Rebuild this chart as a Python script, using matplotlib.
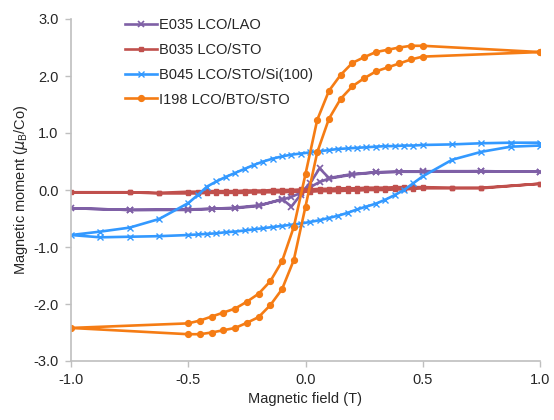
import numpy as np
from matplotlib import pyplot as plt

plt.rcParams['font.family'] = ['Liberation Sans', 'DejaVu Sans']
plt.rcParams['mathtext.fontset'] = 'custom'
plt.rcParams['mathtext.rm'] = 'Liberation Sans'

# ---------------- data ----------------
# E035 LCO/LAO : down sweep then up sweep
e035_x = [1.0, 0.75, 0.5, 0.4, 0.3, 0.2, 0.1, 0.06, 0.02, -0.02, -0.06, -0.1, -0.2, -0.3, -0.4, -0.5, -0.75, -1.0,
          -0.75, -0.5, -0.4, -0.3, -0.2, -0.1, -0.06, -0.02, 0.02, 0.06, 0.1, 0.2, 0.3, 0.4, 0.5, 0.75, 1.0]
e035_y = [0.32, 0.33, 0.33, 0.32, 0.31, 0.28, 0.21, 0.38, 0.12, -0.05, -0.12, -0.17, -0.27, -0.31, -0.33, -0.34, -0.35, -0.32,
          -0.35, -0.35, -0.33, -0.32, -0.28, -0.16, -0.29, -0.08, 0.05, 0.14, 0.20, 0.27, 0.31, 0.32, 0.32, 0.33, 0.32]

# B035 LCO/STO
b035_x = [1.0, 0.75, 0.625, 0.5, 0.46, 0.42, 0.38, 0.34, 0.30, 0.26, 0.22, 0.18, 0.14, 0.10, 0.06, 0.02,
          -0.02, -0.06, -0.10, -0.14, -0.18, -0.22, -0.26, -0.30, -0.34, -0.38, -0.42, -0.46, -0.5, -0.625, -0.75, -1.0,
          -0.75, -0.625, -0.5, -0.46, -0.42, -0.38, -0.34, -0.30, -0.26, -0.22, -0.18, -0.14, -0.10, -0.06, -0.02,
          0.02, 0.06, 0.10, 0.14, 0.18, 0.22, 0.26, 0.30, 0.34, 0.38, 0.42, 0.46, 0.5, 0.625, 0.75, 1.0]
b035_y = [0.11, 0.04, 0.04, 0.05, 0.05, 0.05, 0.05, 0.04, 0.04, 0.04, 0.03, 0.03, 0.03, 0.02, 0.02, 0.01,
          0.01, 0.0, 0.0, 0.0, -0.01, -0.01, -0.01, -0.02, -0.02, -0.02, -0.02, -0.03, -0.03, -0.05, -0.04, -0.04,
          -0.04, -0.06, -0.06, -0.06, -0.05, -0.05, -0.05, -0.05, -0.05, -0.04, -0.04, -0.04, -0.04, -0.03, -0.03,
          -0.03, -0.02, -0.02, -0.02, -0.01, -0.01, 0.0, 0.0, 0.0, 0.01, 0.01, 0.02, 0.03, 0.03, 0.03, 0.11]

# B045 LCO/STO/Si(100)
b045_x = [1.0, 0.875, 0.75, 0.625, 0.5, 0.46, 0.42, 0.38, 0.34, 0.30, 0.26, 0.22, 0.18, 0.14, 0.10, 0.06, 0.02,
          -0.02, -0.06, -0.10, -0.14, -0.18, -0.22, -0.26, -0.30, -0.34, -0.38, -0.42, -0.46, -0.5, -0.625, -0.75, -0.875, -1.0,
          -0.875, -0.75, -0.625, -0.5, -0.46, -0.42, -0.38, -0.34, -0.30, -0.26, -0.22, -0.18, -0.14, -0.10, -0.06, -0.02,
          0.02, 0.06, 0.10, 0.14, 0.18, 0.22, 0.26, 0.30, 0.34, 0.38, 0.42, 0.46, 0.5, 0.625, 0.75, 0.875, 1.0]
b045_y = [0.83, 0.83, 0.82, 0.80, 0.79, 0.78, 0.78, 0.77, 0.77, 0.76, 0.75, 0.74, 0.73, 0.72, 0.70, 0.68, 0.66,
          0.64, 0.62, 0.59, 0.55, 0.50, 0.44, 0.37, 0.30, 0.23, 0.15, 0.06, -0.09, -0.23, -0.51, -0.66, -0.73, -0.79,
          -0.83, -0.82, -0.81, -0.79, -0.78, -0.77, -0.76, -0.74, -0.73, -0.71, -0.69, -0.67, -0.65, -0.63, -0.61, -0.59,
          -0.56, -0.53, -0.49, -0.45, -0.40, -0.34, -0.29, -0.24, -0.17, -0.09, 0.0, 0.12, 0.24, 0.53, 0.67, 0.76, 0.78]

# I198 LCO/BTO/STO
i198_x = [1.0, 0.5, 0.45, 0.4, 0.35, 0.3, 0.25, 0.2, 0.15, 0.1, 0.05, 0.0,
          -0.05, -0.1, -0.15, -0.2, -0.25, -0.3, -0.35, -0.4, -0.45, -0.5, -1.0,
          -0.5, -0.45, -0.4, -0.35, -0.3, -0.25, -0.2, -0.15, -0.1, -0.05, 0.0,
          0.05, 0.1, 0.15, 0.2, 0.25, 0.3, 0.35, 0.4, 0.45, 0.5, 1.0]
i198_y = [2.42, 2.53, 2.53, 2.50, 2.46, 2.42, 2.33, 2.23, 2.02, 1.74, 1.23, 0.28,
          -0.65, -1.25, -1.60, -1.82, -1.96, -2.08, -2.15, -2.22, -2.29, -2.34, -2.42,
          -2.53, -2.53, -2.50, -2.46, -2.42, -2.33, -2.23, -2.02, -1.74, -1.23, -0.29,
          0.66, 1.25, 1.60, 1.82, 1.96, 2.08, 2.15, 2.22, 2.29, 2.34, 2.42]

labels = ['E035 LCO/LAO', 'B035 LCO/STO', 'B045 LCO/STO/Si(100)', 'I198 LCO/BTO/STO']
colors = ['#7F60A6', '#C0504D', '#3399FF', '#F57C14']

# ---------------- plot ----------------
fig = plt.figure(figsize=(5.54, 4.2), dpi=100)
ax = fig.add_axes([71/554, 1-361/420, 469/554, 342/420])

ax.plot(e035_x, e035_y, color=colors[0], lw=1.9, marker='x', ms=5, mew=1.2, label=labels[0])
ax.plot(b035_x, b035_y, color=colors[1], lw=1.9, marker='s', ms=3.5, label=labels[1])
ax.plot(b045_x, b045_y, color=colors[2], lw=1.9, marker='x', ms=5, mew=1.0, label=labels[2])
ax.plot(i198_x, i198_y, color=colors[3], lw=1.9, marker='o', ms=4.2, label=labels[3])

ax.set_xlim(-1.0, 1.0)
ax.set_ylim(-3.0, 3.0)
ax.set_xticks([-1.0, -0.5, 0.0, 0.5, 1.0])
ax.set_yticks([-3.0, -2.0, -1.0, 0.0, 1.0, 2.0, 3.0])
ax.xaxis.set_major_formatter(plt.FormatStrFormatter('%.1f'))
ax.yaxis.set_major_formatter(plt.FormatStrFormatter('%.1f'))

for s in ['top', 'right']:
    ax.spines[s].set_visible(False)
for s in ['left', 'bottom']:
    ax.spines[s].set_color('#BFBFBF')
    ax.spines[s].set_linewidth(1.2)
ax.tick_params(direction='out', length=4, width=1, color='#BFBFBF', labelsize=10.5,
               labelcolor='#262626', pad=5)

ax.set_xlabel('Magnetic field (T)', fontsize=10.5, color='#262626', labelpad=3)
ax.set_ylabel(r'Magnetic moment ($\mu_\mathregular{B}$/Co)', fontsize=10.5, color='#262626', labelpad=2)

leg = ax.legend(loc='upper left', bbox_to_anchor=(0.10, 1.025), frameon=False, fontsize=10.5,
                handlelength=2.2, handletextpad=0.1, labelspacing=0.75, borderpad=0)
for t in leg.get_texts():
    t.set_color('#262626')

plt.savefig('out.png', dpi=100)
